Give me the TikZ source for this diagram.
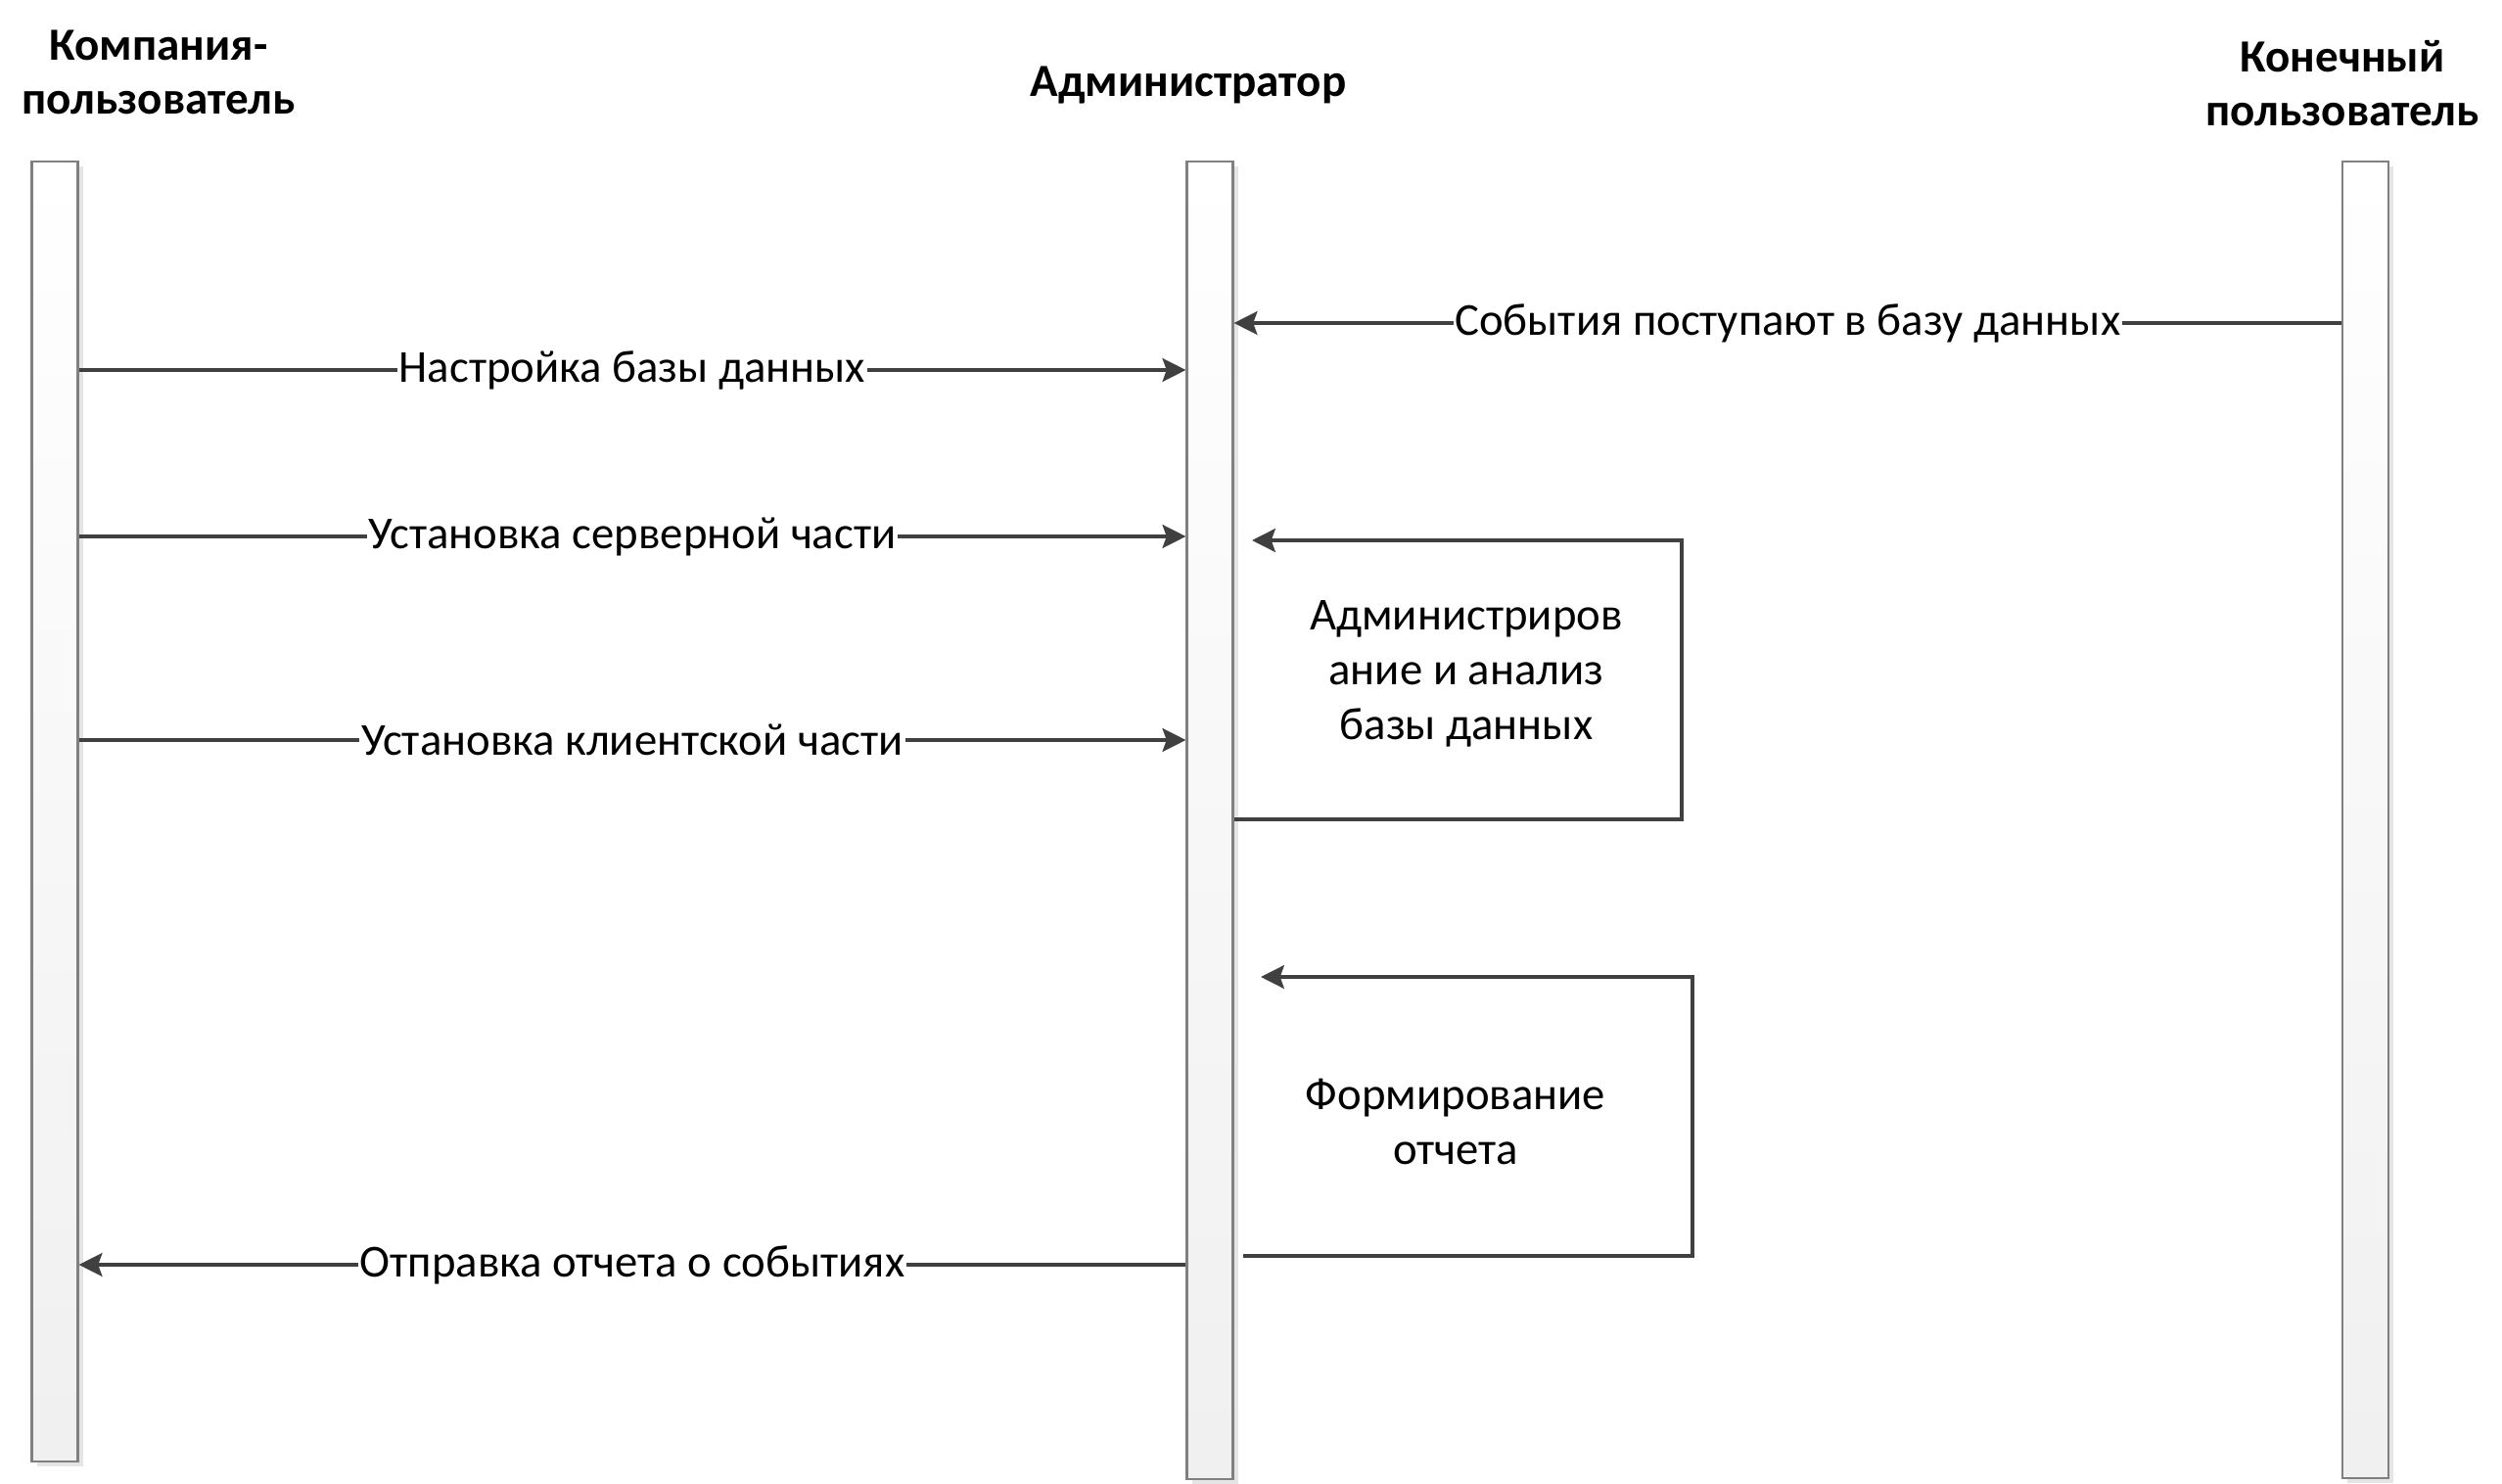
\documentclass[tikz,border=0pt]{standalone}
\usepackage{fontspec}
\setmainfont{Carlito}
\usetikzlibrary{arrows.meta,shadows}

\begin{document}
\begin{tikzpicture}[
    x=1cm, y=1cm,
    lifebar/.style={draw=black!50, line width=0.6pt, minimum width=0.47cm, inner sep=0pt,
        anchor=north, top color=white, bottom color=black!6,
        drop shadow={shadow xshift=0.05cm, shadow yshift=-0.05cm, fill=black!10, opacity=1}},
    actor/.style={font=\fontsize{13.4}{15.6}\selectfont\bfseries, align=center, inner sep=0pt},
    msg/.style={draw=black!75, line width=0.95pt, -{Stealth[length=6.8pt, width=6.8pt, inset=1.2pt]}},
    lbl/.style={font=\fontsize{13.3}{16}\selectfont, fill=white, inner sep=0.5pt},
    note/.style={font=\fontsize{13.3}{15.9}\selectfont, align=center, inner sep=0pt}
]
    \useasboundingbox (0,0) rectangle (25.56,-15.16);

    % lifelines
    \node[lifebar, minimum height=13.28cm] (cmp) at (0.56,-1.64) {};
    \node[lifebar, minimum height=13.46cm] (adm) at (12.36,-1.64) {};
    \node[lifebar, minimum height=13.45cm] (eu) at (24.165,-1.64) {};

    \node[actor] (hcmp) at (1.62,-0.735) {Компания-\\пользователь};
    \node[actor] (hadm) at (12.14,-0.87) {Администратор};
    \node[actor] (heu) at (23.93,-0.85) {Конечный\\пользователь};

    % message levels
    \coordinate (m1) at (0,-3.30);
    \coordinate (m2) at (0,-3.78);
    \coordinate (m3) at (0,-5.48);
    \coordinate (m4) at (0,-7.56);
    \coordinate (m5) at (0,-12.92);

    \draw[msg] (eu.west |- m1) -- node[lbl] {События поступают в базу данных} (adm.east |- m1);
    \draw[msg] (cmp.east |- m2) -- node[lbl] {Настройка базы данных} (adm.west |- m2);
    \draw[msg] (cmp.east |- m3) -- node[lbl] {Установка серверной части} (adm.west |- m3);
    \draw[msg] (cmp.east |- m4) -- node[lbl] {Установка клиентской части} (adm.west |- m4);
    \draw[msg] (adm.west |- m5) -- node[lbl] {Отправка отчета о событиях} (cmp.east |- m5);

    % self messages
    \coordinate (aR) at (17.18,-5.52);
    \coordinate (aT) at (12.79,-5.52);
    \coordinate (aB) at (0,-8.37);
    \draw[msg] (adm.east |- aB) -| (aR) -- (aT);
    \node[note] (na) at (14.98,-6.88) {Администриров\\ание и анализ\\базы данных};

    \coordinate (bR) at (17.29,-9.98);
    \coordinate (bT) at (12.88,-9.98);
    \coordinate (bB) at (12.70,-12.83);
    \draw[msg] (bB) -| (bR) -- (bT);
    \node[note] (nb) at (14.87,-11.46) {Формирование\\отчета};
\end{tikzpicture}
\end{document}
